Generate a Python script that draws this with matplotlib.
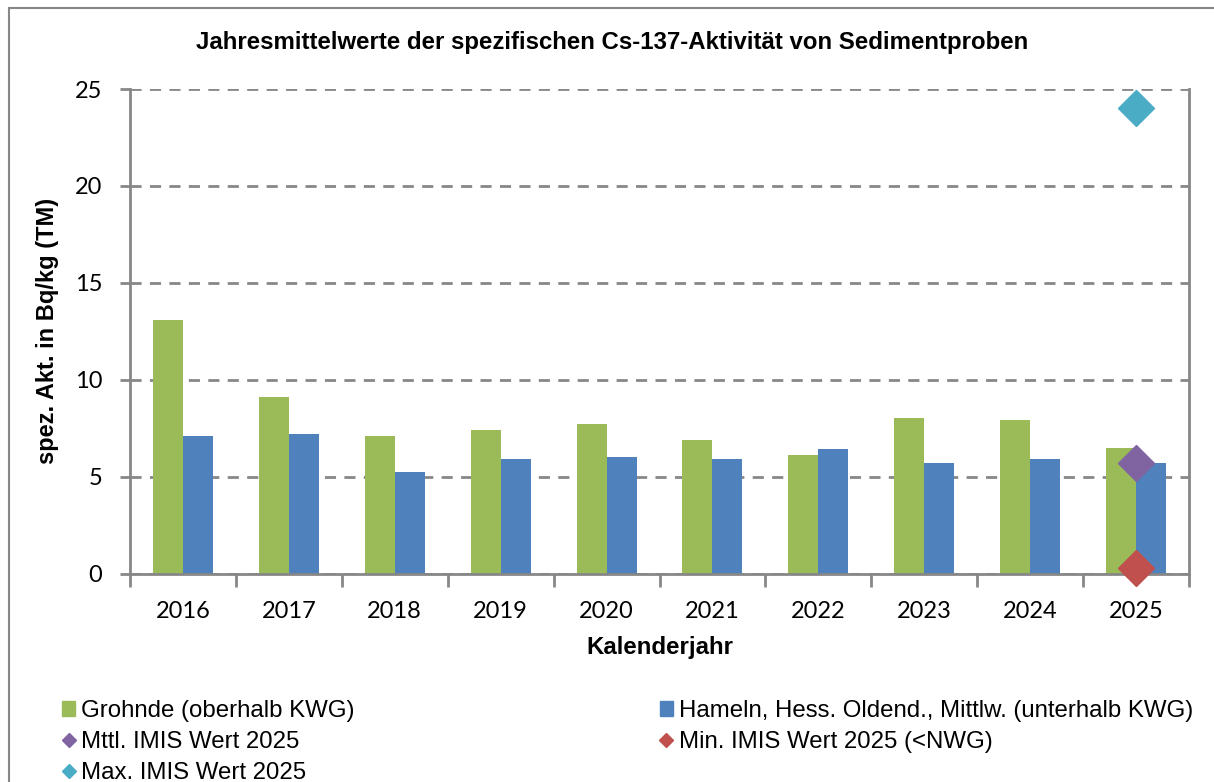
import matplotlib.pyplot as plt
from matplotlib.lines import Line2D
from matplotlib.patches import Patch, Rectangle
import numpy as np

years = ['2016', '2017', '2018', '2019', '2020', '2021', '2022', '2023', '2024', '2025']
grohnde = [13.1, 9.1, 7.1, 7.4, 7.7, 6.9, 6.1, 8.0, 7.9, 6.5]
hameln = [7.1, 7.2, 5.25, 5.9, 6.0, 5.9, 6.4, 5.7, 5.9, 5.7]

imis_year = '2025'
imis_mean = 5.7
imis_min = 0.3
imis_max = 24.0

GREEN = '#9BBB59'
BLUE = '#4F81BD'
PURPLE = '#8064A2'
RED = '#C0504D'
CYAN = '#4BACC6'
GRAY = '#878787'

fig = plt.figure(figsize=(12.14, 7.82), dpi=100)
ax = fig.add_axes([130/1214, 1 - 573.5/782, (1189 - 130)/1214, (573.5 - 89)/782])

x = np.arange(len(years))
w = 0.283
ax.bar(x - w/2, grohnde, w, color=GREEN, zorder=3)
ax.bar(x + w/2, hameln, w, color=BLUE, zorder=3)

xi = years.index(imis_year)
for val, col in [(imis_mean, PURPLE), (imis_min, RED), (imis_max, CYAN)]:
    ax.plot([xi], [val], marker='D', ms=18.5, color=col, ls='none', zorder=6, clip_on=False)

ax.set_xlim(-0.5, len(years) - 0.5)
ax.set_ylim(0, 25)
ax.set_yticks([0, 5, 10, 15, 20, 25])
ax.set_xticks(x)
ax.set_xticklabels(years)
ax.set_xticks(np.arange(-0.5, len(years)), minor=True)
ax.tick_params(axis='x', which='major', length=0, pad=20, labelsize=17)
ax.tick_params(axis='x', which='minor', length=9, width=2, color=GRAY, direction='out')
ax.tick_params(axis='y', length=7, width=2, color=GRAY, direction='out', pad=13, labelsize=17)
for lab in ax.get_xticklabels() + ax.get_yticklabels():
    lab.set_family('Lato')

ax.yaxis.grid(True, ls=(0, (4, 3)), color=GRAY, lw=2, zorder=0)
ax.set_axisbelow(True)
ax.spines['top'].set_visible(False)
for s in ['left', 'right', 'bottom']:
    ax.spines[s].set_color(GRAY)
    ax.spines[s].set_linewidth(2)
ax.spines['bottom'].set_zorder(5)

ax.set_xlabel('Kalenderjahr', fontsize=17.3, fontweight='bold', family='Liberation Sans', labelpad=10)
ax.set_ylabel('spez. Akt. in Bq/kg (TM)', fontsize=17, fontweight='bold', family='Liberation Sans', labelpad=11)

fig.text(0.504, 1 - 42/782, 'Jahresmittelwerte der spezifischen Cs-137-Aktivität von Sedimentproben',
         ha='center', va='center', fontsize=17.3, fontweight='bold', family='Liberation Sans')

# legend, Excel-style row ordering
h_gro = Patch(color=GREEN, label='Grohnde (oberhalb KWG)')
h_ham = Patch(color=BLUE, label='Hameln, Hess. Oldend., Mittlw. (unterhalb KWG)')
h_mean = Line2D([], [], marker='D', ms=7, color=PURPLE, ls='none', label='Mttl. IMIS Wert 2025')
h_min = Line2D([], [], marker='D', ms=7, color=RED, ls='none', label='Min. IMIS Wert 2025 (<NWG)')
h_max = Line2D([], [], marker='D', ms=7, color=CYAN, ls='none', label='Max. IMIS Wert 2025')
fig.legend(handles=[h_gro, h_mean, h_max, h_ham, h_min], ncol=2, loc='upper left',
           bbox_to_anchor=(62/1214, 1 - 700/782), frameon=False, borderpad=0, borderaxespad=0,
           handlelength=0.55, handleheight=0.55, handletextpad=0.25, labelspacing=0.38,
           columnspacing=12.7, prop={'family': 'Liberation Sans', 'size': 17.3})

fig.add_artist(Rectangle((9/1214, -0.1), 2, 1.1 - 8/782, transform=fig.transFigure,
                         fill=False, edgecolor=GRAY, lw=1.5))

fig.savefig('out.png', dpi=100, facecolor='white')
